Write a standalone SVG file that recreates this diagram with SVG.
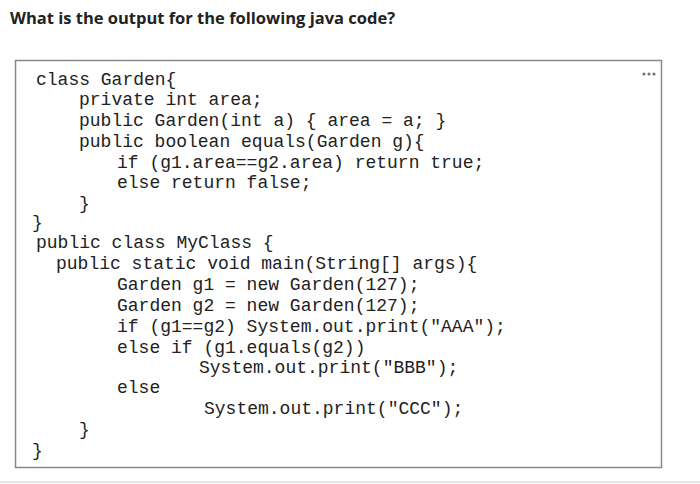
<svg xmlns="http://www.w3.org/2000/svg" width="700" height="484" viewBox="0 0 700 484">
<style>
.c{font-family:"Liberation Mono","Courier New",monospace;font-size:18px;fill:#222;white-space:pre}
</style>
<rect width="700" height="484" fill="#fff"/>
<text x="10" y="24" font-family="Open Sans, sans-serif" font-weight="bold" font-size="16.5" fill="#222">What is the output for the following java code?</text>
<rect x="15.5" y="60.5" width="646" height="407" fill="#fff" stroke="#888" stroke-width="1.5"/>
<g fill="#777"><circle cx="644" cy="74" r="1.6"/><circle cx="649" cy="74" r="1.6"/><circle cx="654" cy="74" r="1.6"/></g>
<line x1="0" y1="482" x2="700" y2="482" stroke="#e6e6e6" stroke-width="2"/>
<g class="c">
<text x="36" y="85">class Garden{</text>
<text x="79" y="105">private int area;</text>
<text x="79" y="126">public Garden(int a) { area = a; }</text>
<text x="79" y="147">public boolean equals(Garden g){</text>
<text x="117" y="168">if (g1.area==g2.area) return true;</text>
<text x="117" y="188">else  return false;</text>
<text x="79" y="209">}</text>
<text x="32" y="228">}</text>
<text x="36" y="248">public class MyClass {</text>
<text x="56" y="269">public static void main(String[] args){</text>
<text x="117" y="290">Garden g1 = new Garden(127);</text>
<text x="117" y="311">Garden g2 = new Garden(127);</text>
<text x="117" y="332">if (g1==g2) System.out.print("AAA");</text>
<text x="117" y="353">else if (g1.equals(g2))</text>
<text x="199" y="373">System.out.print("BBB");</text>
<text x="117" y="393">else</text>
<text x="204" y="414">System.out.print("CCC");</text>
<text x="79" y="435">}</text>
<text x="32" y="456">}</text>
</g>
</svg>
